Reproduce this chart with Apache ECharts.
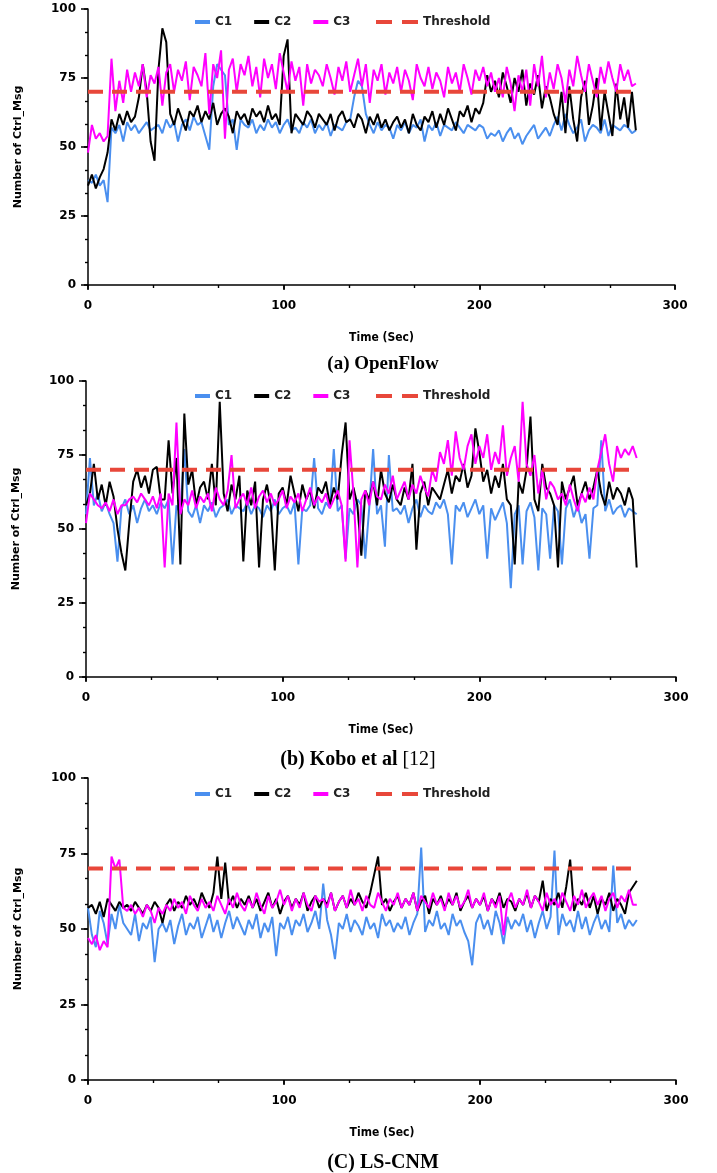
<!DOCTYPE html>
<html>
<head>
<meta charset="utf-8">
<script src="https://cdn.jsdelivr.net/npm/echarts@6/dist/echarts.min.js"></script>
<style>
html,body{margin:0;padding:0;background:#fff;}
#main{width:717px;height:1173px;}
</style>
</head>
<body>
<div id="main"></div>
<script>
// sample times (Sec)
const times = [
  0,2,4,6,8,10,12,14,16,18,
  20,22,24,26,28,30,32,34,36,38,
  40,42,44,46,48,50,52,54,56,58,
  60,62,64,66,68,70,72,74,76,78,
  80,82,84,86,88,90,92,94,96,98,
  100,102,104,106,108,110,112,114,116,118,
  120,122,124,126,128,130,132,134,136,138,
  140,142,144,146,148,150,152,154,156,158,
  160,162,164,166,168,170,172,174,176,178,
  180,182,184,186,188,190,192,194,196,198,
  200,202,204,206,208,210,212,214,216,218,
  220,222,224,226,228,230,232,234,236,238,
  240,242,244,246,248,250,252,254,256,258,
  260,262,264,266,268,270,272,274,276,278,
  280
];

// (a) OpenFlow
const ofC1 = [
  38,37,40,36,38,30,57,55,58,52,
  59,56,58,55,57,59,56,57,58,55,
  60,57,59,52,58,60,56,61,58,59,
  54,49,72,80,78,76,58,60,49,60,
  58,57,60,55,58,56,60,57,59,55,
  58,60,56,57,55,59,57,60,55,58,
  56,59,54,58,57,56,59,60,68,74,
  72,62,58,55,59,56,58,57,53,58,
  56,59,55,58,57,60,52,58,56,59,
  54,58,57,56,59,57,55,58,57,56,
  58,57,53,55,54,56,52,55,57,53,
  55,51,54,56,58,53,55,57,54,58,
  61,56,62,58,55,57,60,52,56,58,
  57,55,60,54,58,57,56,58,57,55,
  56
];
const ofC2 = [
  36,40,35,39,42,48,60,56,62,58,
  63,59,61,68,80,70,52,45,78,93,
  88,62,58,64,60,56,63,61,65,59,
  63,60,66,58,62,64,61,55,63,60,
  62,58,64,61,63,59,65,60,62,58,
  83,89,55,62,60,58,63,61,57,62,
  60,58,62,56,61,63,59,60,57,62,
  60,55,61,58,62,57,60,56,59,61,
  57,60,55,62,58,56,61,59,63,57,
  62,58,64,60,56,63,61,65,59,64,
  62,66,76,70,74,68,77,72,66,75,
  70,78,65,73,69,76,64,72,68,62,
  58,70,55,72,60,52,68,74,58,65,
  75,56,70,62,54,73,60,68,57,70,
  56
];
const ofC3 = [
  48,58,53,55,52,54,82,63,74,66,
  78,70,77,72,80,68,76,73,79,65,
  77,80,70,78,74,81,67,79,76,72,
  84,62,80,75,85,53,78,82,70,80,
  76,83,72,79,68,82,75,80,71,84,
  77,70,81,74,79,65,80,73,78,76,
  72,80,75,69,79,74,81,70,76,82,
  72,80,66,78,74,80,69,77,73,79,
  70,78,74,67,80,75,72,79,71,77,
  74,68,79,73,77,70,80,75,69,78,
  74,79,72,77,70,75,68,79,73,63,
  76,70,78,65,80,72,83,68,77,71,
  80,75,66,78,72,83,76,70,80,74,
  68,79,73,81,75,70,80,74,78,72,
  73
];

// (b) Kobo et al [12]
const kbC1 = [
  55,74,58,62,56,59,55,52,39,57,
  60,55,58,52,57,60,56,58,55,59,
  57,60,38,58,55,77,56,54,58,52,
  58,56,59,54,57,58,60,55,58,57,
  56,59,55,58,57,54,58,56,60,55,
  57,58,55,59,38,57,56,58,74,57,
  55,59,57,77,56,58,40,57,55,60,
  58,40,57,77,55,58,44,75,56,57,
  55,58,52,57,60,54,58,56,55,59,
  57,60,55,38,58,56,59,54,57,60,
  55,58,40,57,53,56,59,52,30,55,
  58,38,56,59,54,36,57,55,40,58,
  56,38,57,60,54,58,52,55,40,57,
  58,80,56,60,55,57,58,54,57,56,
  55
];
const kbC2 = [
  58,62,72,60,65,58,66,61,50,42,
  36,52,66,70,64,68,62,70,71,60,
  60,80,62,74,38,89,65,70,58,64,
  66,60,72,58,93,62,56,65,60,68,
  39,63,58,66,37,60,65,58,36,62,
  64,58,68,62,56,65,60,63,57,64,
  62,66,58,64,60,75,86,60,64,58,
  41,63,60,66,58,70,62,59,65,60,
  58,64,60,72,43,62,66,58,64,62,
  60,65,70,62,68,66,72,64,68,84,
  76,66,70,62,68,64,72,60,58,38,
  66,62,70,88,60,56,72,64,62,58,
  37,66,60,64,68,58,62,66,60,64,
  70,62,58,66,60,64,62,58,64,60,
  37
];
const kbC3 = [
  52,62,60,58,57,59,56,60,55,58,
  58,60,61,59,62,60,58,61,57,62,
  37,62,58,86,55,60,58,63,57,61,
  59,62,56,64,60,58,63,75,57,60,
  62,58,64,57,61,63,59,62,58,60,
  63,57,61,59,62,56,60,64,58,61,
  59,62,57,60,63,58,39,80,62,37,
  60,63,58,66,61,60,65,62,68,60,
  63,66,60,65,62,68,64,61,70,66,
  76,72,80,68,83,74,70,78,82,72,
  78,74,82,70,76,72,85,68,74,78,
  66,93,72,68,75,62,70,60,66,64,
  60,62,58,65,60,56,62,59,64,60,
  70,76,82,72,66,78,74,77,75,78,
  74
];

// (C) LS-CNM
const lsC1 = [
  57,48,44,56,52,45,55,50,58,52,
  50,48,55,46,52,50,54,39,50,52,
  49,53,45,51,55,48,52,50,54,47,
  51,55,49,53,47,52,56,50,54,51,
  48,53,50,55,47,52,49,54,41,52,
  50,54,48,53,51,55,49,52,56,50,
  65,53,48,40,52,50,55,49,53,51,
  48,54,50,52,47,55,51,53,49,52,
  50,54,48,52,55,77,49,53,51,56,
  50,52,48,55,51,53,49,46,38,52,
  55,50,53,48,56,52,45,54,50,53,
  51,55,49,53,47,52,56,50,54,76,
  48,55,51,53,49,56,50,54,48,52,
  55,50,53,49,71,52,55,50,53,51,
  53
];
const lsC2 = [
  57,58,55,59,54,60,58,56,59,57,
  58,56,59,57,55,58,56,59,57,52,
  58,60,56,59,57,61,58,60,57,62,
  59,57,62,74,60,72,58,61,57,60,
  58,61,57,60,56,59,62,57,60,55,
  59,61,57,60,58,62,56,59,61,57,
  60,58,62,56,59,61,57,60,58,62,
  59,57,62,68,74,58,60,56,59,61,
  57,60,58,62,56,59,61,55,60,58,
  61,57,60,58,62,56,59,61,57,60,
  58,61,56,60,58,62,57,60,59,56,
  60,58,62,57,61,59,66,56,60,58,
  62,57,64,73,56,60,58,62,57,61,
  55,60,58,62,56,60,58,55,62,64,
  66
];
const lsC3 = [
  47,45,48,43,46,44,74,70,73,57,
  56,58,55,57,54,58,56,52,57,55,
  58,56,60,57,59,55,61,58,56,60,
  57,59,56,61,58,55,60,57,62,58,
  56,60,57,62,58,55,61,57,59,63,
  58,61,56,60,57,62,58,56,61,59,
  60,57,62,56,59,61,57,63,58,60,
  56,61,58,57,62,59,56,60,58,62,
  57,60,58,62,56,61,59,57,62,58,
  60,56,62,58,61,57,59,63,57,60,
  58,62,56,60,57,61,48,59,62,57,
  60,58,63,57,61,59,56,62,58,60,
  57,62,59,56,61,58,63,57,60,62,
  58,61,56,60,62,57,61,59,63,58,
  58
];

const threshold = 70;
const thresholdSpan = [0, 280];
const xTicks = [0, 100, 200, 300];
const yTicks = [0, 25, 50, 75, 100];

const captions = ['{b|(a) OpenFlow}', '{b|(b) Kobo et al }{n|[12]}', '{b|(C) LS-CNM}'];

const panels = [
  {grid: {left: 88, top: 9, width: 587, height: 276}, legendTop: 16, captionX: 383, captionY: 364, captionSize: 19, data: [ofC1, ofC2, ofC3]},
  {grid: {left: 86, top: 381, width: 590, height: 296}, legendTop: 390, captionX: 358, captionY: 760, captionSize: 20, data: [kbC1, kbC2, kbC3]},
  {grid: {left: 88, top: 778, width: 588, height: 302}, legendTop: 788, captionX: 383, captionY: 1163, captionSize: 20, data: [lsC1, lsC2, lsC3]}
];

const names = ['C1', 'C2', 'C3'];
const colors = ['#4a8fef', '#000000', '#ff00ff'];
const red = '#e8473a';
const sans = 'DejaVu Sans, Verdana, sans-serif';
const narrow = 'DejaVu Sans Condensed, DejaVu Sans, sans-serif';
const serif = 'Liberation Serif, Times New Roman, serif';

function pairs(vals) {
  return vals.map((v, i) => [times[i], v]);
}

const grid = [], xAxis = [], yAxis = [], legend = [], series = [], graphic = [];

panels.forEach((p, k) => {
  grid.push(p.grid);
  const tickLine = {color: '#000', width: 1.5};
  const minor = {show: true, splitNumber: 3, length: 3, lineStyle: {color: '#000', width: 1.2}};
  // main axes with labels (ticks outside)
  xAxis.push({
    gridIndex: k, type: 'value', min: xTicks[0], max: xTicks[xTicks.length - 1], interval: 100,
    axisLine: {onZero: false, lineStyle: {color: '#000', width: 1.5}},
    axisTick: {length: 5, lineStyle: tickLine},
    minorTick: minor,
    splitLine: {show: false},
    axisLabel: {margin: 15, color: '#000', fontWeight: 'bold', fontSize: 12, fontFamily: sans},
    name: 'Time (Sec)', nameLocation: 'middle', nameGap: 47,
    nameTextStyle: {color: '#000', fontWeight: 'bold', fontSize: 12, fontFamily: narrow}
  });
  // inner ticks so ticks cross the axis line
  xAxis.push({
    gridIndex: k, type: 'value', min: 0, max: 300, interval: 100,
    axisLine: {show: false}, axisLabel: {show: false}, splitLine: {show: false},
    axisTick: {inside: true, length: 4, lineStyle: tickLine},
    minorTick: minor
  });
  yAxis.push({
    gridIndex: k, type: 'value', min: yTicks[0], max: yTicks[yTicks.length - 1], interval: 25,
    axisLine: {show: true, onZero: false, lineStyle: {color: '#000', width: 1.5}},
    axisTick: {show: true, length: 7, lineStyle: tickLine},
    minorTick: minor,
    splitLine: {show: false},
    axisLabel: {margin: 12, color: '#000', fontWeight: 'bold', fontSize: 12, fontFamily: sans},
    name: 'Number of Ctrl_Msg', nameLocation: 'middle', nameGap: 64, nameRotate: 90,
    nameTextStyle: {color: '#000', fontWeight: 'bold', fontSize: 11, fontFamily: sans}
  });
  yAxis.push({
    gridIndex: k, type: 'value', min: 0, max: 100, interval: 25,
    axisLine: {show: false}, axisLabel: {show: false}, splitLine: {show: false},
    axisTick: {show: true, inside: true, length: 4, lineStyle: tickLine},
    minorTick: minor
  });

  const legendText = {color: '#222', fontWeight: 'bold', fontSize: 12, fontFamily: sans};
  legend.push({
    left: 195, top: p.legendTop, padding: 0, icon: 'rect', itemWidth: 15, itemHeight: 4, itemGap: 22,
    data: names, textStyle: legendText
  });
  legend.push({
    left: 376, top: p.legendTop, padding: 0, itemWidth: 42, itemHeight: 4,
    icon: 'path://M0 0h16v4H0z M26 0h16v4H26z',
    data: ['Threshold'], textStyle: legendText
  });

  p.data.forEach((vals, j) => {
    series.push({
      name: names[j], type: 'line', xAxisIndex: 2 * k, yAxisIndex: 2 * k,
      data: pairs(vals), showSymbol: false, symbol: 'none',
      itemStyle: {color: colors[j]}, lineStyle: {color: colors[j], width: 2}
    });
  });
  series.push({
    name: 'Threshold', type: 'line', xAxisIndex: 2 * k, yAxisIndex: 2 * k,
    data: thresholdSpan.map(t => [t, threshold]), showSymbol: false, symbol: 'none', z: 5,
    itemStyle: {color: red}, lineStyle: {color: red, width: 4, type: [15, 9]}
  });

  graphic.push({
    type: 'text', x: p.captionX, y: p.captionY,
    style: {
      text: captions[k], align: 'center', verticalAlign: 'middle',
      rich: {
        b: {fontFamily: serif, fontWeight: 'bold', fontSize: p.captionSize, fill: '#000'},
        n: {fontFamily: serif, fontWeight: 'normal', fontSize: p.captionSize, fill: '#000'}
      }
    }
  });
});

const chart = echarts.init(document.getElementById('main'));
chart.setOption({
  animation: false,
  backgroundColor: '#fff',
  grid, xAxis, yAxis, legend, series, graphic
});
</script>
</body>
</html>
